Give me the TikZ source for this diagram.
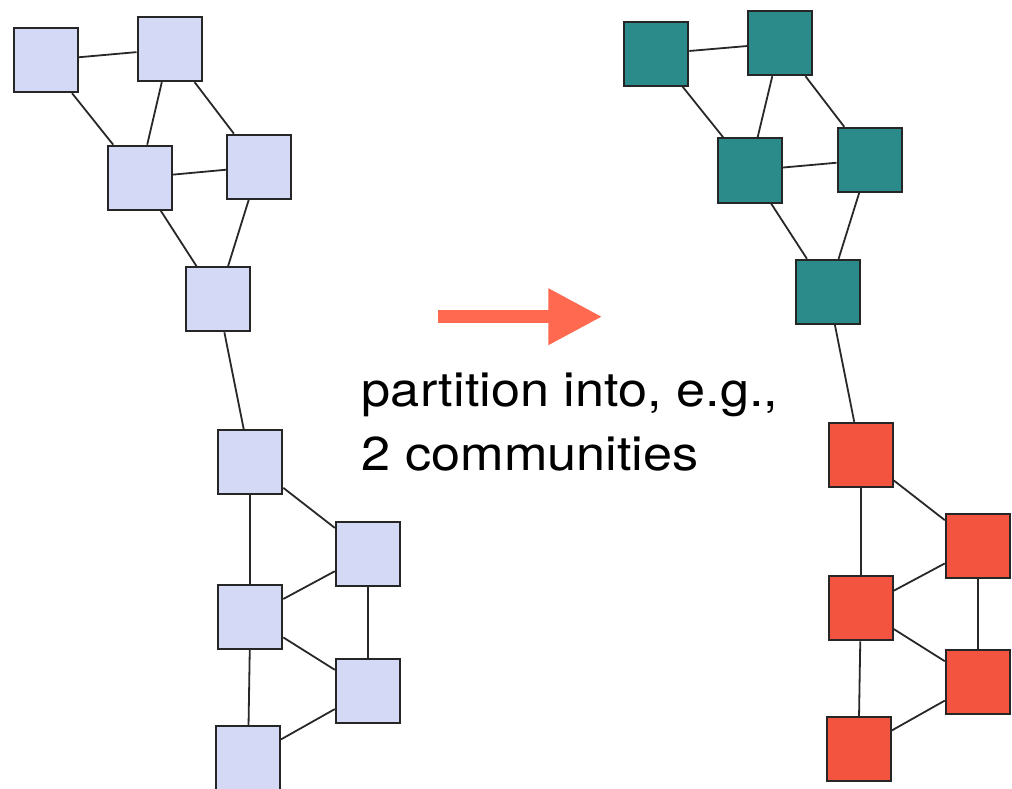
\documentclass[tikz,border=0pt]{standalone}
\usepackage{fontspec}
\setsansfont[FakeStretch=1.1]{TeX Gyre Heros}
\usetikzlibrary{arrows.meta}
\definecolor{vtxlight}{RGB}{212,217,245}
\definecolor{vtxteal}{RGB}{42,139,138}
\definecolor{vtxred}{RGB}{242,84,64}
\definecolor{arrowred}{RGB}{255,105,80}
\definecolor{edgegray}{RGB}{40,40,40}
\tikzset{
	vtx/.style={draw=black!85, line width=2pt, minimum size=64pt, inner sep=0pt},
	lvtx/.style={vtx, fill=vtxlight},
	tvtx/.style={vtx, fill=vtxteal},
	rvtx/.style={vtx, fill=vtxred},
	edge/.style={draw=edgegray, line width=1.8pt},
	partarrow/.style={draw=arrowred, line width=13pt, -{Triangle[length=54pt, width=53pt]}},
	caption/.style={font=\sffamily\fontsize{47.5}{63}\selectfont, inner sep=0pt, anchor=base west}
}
\begin{document}
\begin{tikzpicture}[x=1pt, y=-1pt]
					\useasboundingbox (0, 0) rectangle (1012, 789);
					\clip (0, 0) rectangle (1012, 789);
					\node[lvtx] (a1) at (45.7, 60.2) {};
					\node[lvtx] (a2) at (169.5, 49.2) {};
					\node[lvtx] (a3) at (139.5, 177.7) {};
					\node[lvtx] (a4) at (259, 166.7) {};
					\node[lvtx] (a5) at (217.8, 299.3) {};
					\node[lvtx] (a6) at (250.3, 462.2) {};
					\node[lvtx] (a7) at (367.8, 553.5) {};
					\node[lvtx] (a8) at (250.3, 616.7) {};
					\node[lvtx] (a9) at (367.8, 690.5) {};
					\node[lvtx] (a10) at (248, 758) {};
					\draw[edge] (a1) -- (a2);
					\draw[edge] (a1) -- (a3);
					\draw[edge] (a2) -- (a3);
					\draw[edge] (a2) -- (a4);
					\draw[edge] (a3) -- (a4);
					\draw[edge] (a3) -- (a5);
					\draw[edge] (a4) -- (a5);
					\draw[edge] (a5) -- (a6);
					\draw[edge] (a6) -- (a7);
					\draw[edge] (a6) -- (a8);
					\draw[edge] (a7) -- (a8);
					\draw[edge] (a7) -- (a9);
					\draw[edge] (a8) -- (a9);
					\draw[edge] (a8) -- (a10);
					\draw[edge] (a9) -- (a10);
					\node[tvtx] (b1) at (656.3, 53.8) {};
					\node[tvtx] (b2) at (780.2, 43.2) {};
					\node[tvtx] (b3) at (749.7, 170.5) {};
					\node[tvtx] (b4) at (869.5, 159.8) {};
					\node[tvtx] (b5) at (828.3, 291.8) {};
					\node[rvtx] (b6) at (860.8, 454.8) {};
					\node[rvtx] (b7) at (977.8, 545.8) {};
					\node[rvtx] (b8) at (860.8, 608.3) {};
					\node[rvtx] (b9) at (977.8, 682) {};
					\node[rvtx] (b10) at (858.5, 749.2) {};
					\draw[edge] (b1) -- (b2);
					\draw[edge] (b1) -- (b3);
					\draw[edge] (b2) -- (b3);
					\draw[edge] (b2) -- (b4);
					\draw[edge] (b3) -- (b4);
					\draw[edge] (b3) -- (b5);
					\draw[edge] (b4) -- (b5);
					\draw[edge] (b5) -- (b6);
					\draw[edge] (b6) -- (b7);
					\draw[edge] (b6) -- (b8);
					\draw[edge] (b7) -- (b8);
					\draw[edge] (b7) -- (b9);
					\draw[edge] (b8) -- (b9);
					\draw[edge] (b8) -- (b10);
					\draw[edge] (b9) -- (b10);
					\coordinate (arrowstart) at (438.3, 316.7);
					\coordinate (arrowend) at (602.3, 316.7);
					\draw[partarrow] (arrowstart) -- (arrowend);
					\node[caption] (lbl1) at (361.7, 406.7) {partition into, e.g.,};
					\node[caption] (lbl2) at (361.7, 470) {2 communities};
				\end{tikzpicture}
\end{document}
